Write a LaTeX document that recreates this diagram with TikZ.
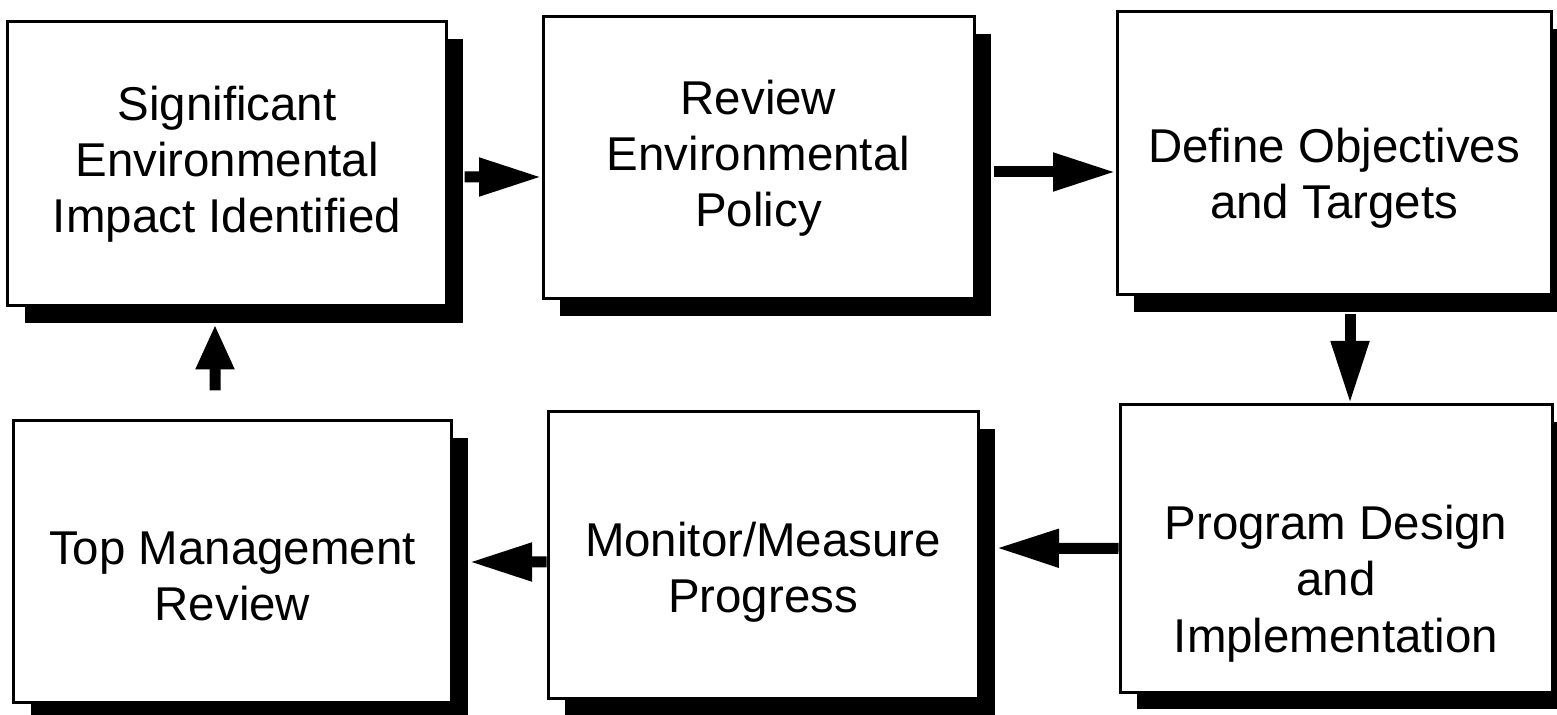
\documentclass[tikz,border=0pt]{standalone}
\usepackage{fontspec}
\setmainfont{Liberation Sans}
\usetikzlibrary{arrows.meta,shadows,positioning}

\begin{document}
\begin{tikzpicture}[
  box/.style={draw,line width=0.06cm,fill=white,
    drop shadow={shadow xshift=0.34cm,shadow yshift=-0.34cm,opacity=1,fill=black}},
  lbl/.style={align=center,font=\fontsize{27}{32}\selectfont},
  flow/.style={line width=0.22cm,-{Triangle[length=1.25cm,width=0.72cm]}}]
\useasboundingbox (0,0) rectangle (31.14,-14.3);

\node (b1) [box,minimum width=8.76cm,minimum height=5.68cm] at (4.54,-3.28) {};
\node (b2) [box,minimum width=8.62cm,minimum height=5.64cm] at (15.17,-3.16) {};
\node (b3) [box,minimum width=8.68cm,minimum height=5.66cm] at (26.68,-3.07) {};
\node (b4) [box,minimum width=8.74cm,minimum height=5.62cm] at (4.65,-11.23) {};
\node (b5) [box,minimum width=8.60cm,minimum height=5.72cm] at (15.26,-11.1) {};
\node (b6) [box,minimum width=8.64cm,minimum height=5.74cm] at (26.72,-10.97) {};

\node (t1) [lbl] at (b1.center) {Significant\\Environmental\\Impact Identified};
\node (t2) [lbl] at (b2.center) {Review\\Environmental\\Policy};
\node (t3) [lbl] at ([yshift=-0.5cm]b3.center) {Define Objectives\\and Targets};
\node (t4) [lbl] at ([yshift=-0.3cm]b4.center) {Top Management\\Review};
\node (t5) [lbl] at ([yshift=-0.35cm]b5.center) {Monitor/Measure\\Progress};
\node (t6) [lbl] at ([yshift=-0.7cm]b6.center) {Program Design\\and\\Implementation};

\draw[flow] ([xshift=0.34cm,yshift=-0.26cm]b1.east) -- ([yshift=-0.38cm]b2.west);
\draw[flow] ([xshift=0.36cm,yshift=-0.28cm]b2.east) -- ([yshift=-0.37cm]b3.west);
\draw[flow] ([xshift=0.32cm,yshift=-0.36cm]b3.south) -- ([xshift=0.28cm]b6.north);
\draw[flow] (b6.west) -- ([xshift=0.34cm,yshift=0.14cm]b5.east);
\draw[flow] ([yshift=-0.14cm]b5.west) -- ([xshift=0.34cm,yshift=-0.01cm]b4.east);
\draw[flow,-{Triangle[length=0.9cm,width=0.72cm]}] ([xshift=-0.35cm,yshift=0.58cm]b4.north) -- ([xshift=-0.24cm,yshift=-0.34cm]b1.south);
\end{tikzpicture}
\end{document}
